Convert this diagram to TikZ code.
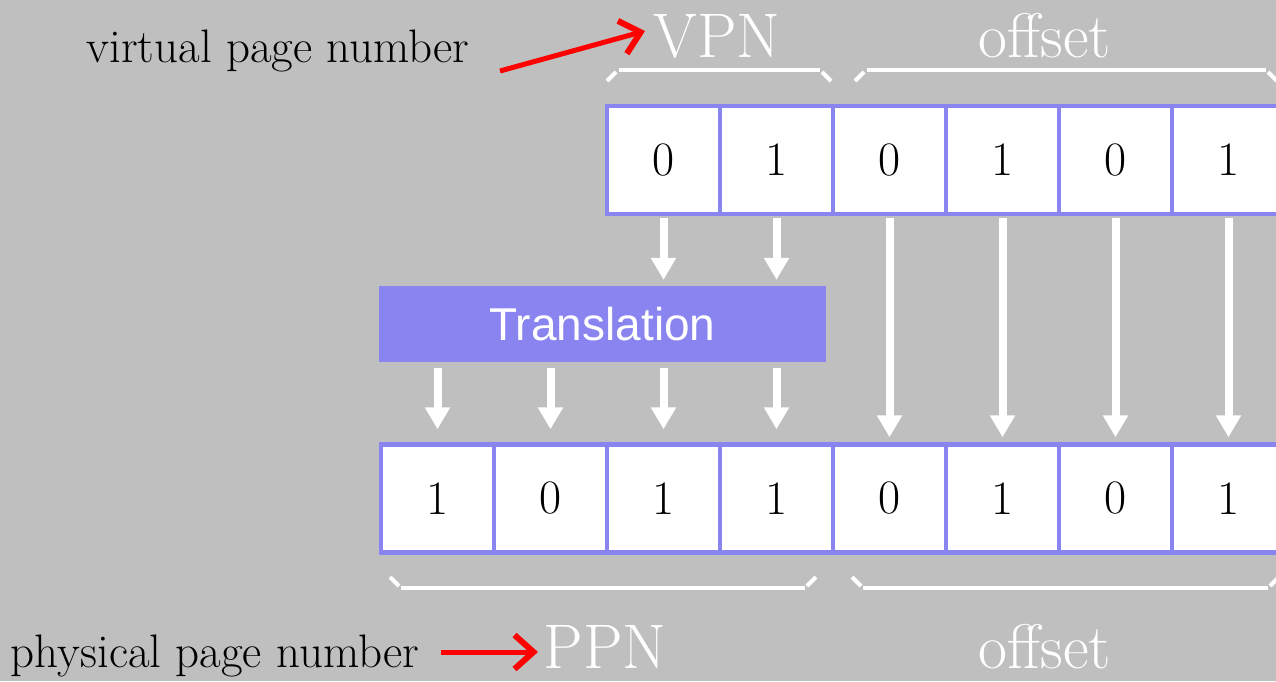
\documentclass[tikz,border=0pt]{standalone}
\usepackage{fontspec}
\newfontfamily\sansf{Liberation Sans}
\usetikzlibrary{arrows.meta}
\definecolor{bg}{RGB}{191,191,191}
\definecolor{vio}{RGB}{137,132,240}
\begin{document}
\begin{tikzpicture}[x=1pt,y=-1pt,
 cell/.style={draw=vio,line width=4.5pt,fill=white,minimum width=113pt,minimum height=108pt,inner sep=0pt,font=\fontsize{48}{50}\selectfont},
 warrow/.style={draw=white,line width=8pt,-{Triangle[width=24pt,length=22pt]}},
 brace/.style={draw=white,line width=4pt},
 wlab/.style={text=white,font=\fontsize{63}{70}\selectfont,inner sep=0pt,anchor=base},
 blab/.style={text=black,font=\fontsize{47}{52}\selectfont,inner sep=0pt,anchor=base},
 rarrow/.style={draw=red,line width=5pt,-{Straight Barb[length=19pt,width=34pt,line width=6pt]}}]
\useasboundingbox (0,0) rectangle (1276,681);
\fill[bg] (0,0) rectangle (1276,681);
\clip (0,0) rectangle (1276,681);
% top row
\foreach \i/\d in {2/0,3/1,4/0,5/1,6/0,7/1}
  \node[cell] (t\i) at ({381+113*(\i+0.5)},160) {\d};
% bottom row
\foreach \i/\d in {0/1,1/0,2/1,3/1,4/0,5/1,6/0,7/1}
  \node[cell] (b\i) at ({381+113*(\i+0.5)},498.5) {\d};
% translation
\node[fill=vio,minimum width=447pt,minimum height=76pt,inner sep=0pt,text=white,
      font=\sansf\fontsize{46}{50}\selectfont] (tr) at (602.5,324) {Translation};
% arrows
\foreach \i in {2,3}
  \draw[warrow] ([yshift=-2pt]t\i.south) -- ([yshift=6pt]t\i.south |- tr.north);
\foreach \i in {0,...,3}
  \draw[warrow] ([yshift=-6pt]b\i.north |- tr.south) -- ([yshift=13pt]b\i.north);
\foreach \i in {4,...,7}
  \draw[warrow] ([yshift=-2pt]t\i.south) -- ([yshift=5pt]b\i.north);
% braces
\draw[brace] (607,81) -- (616,72);
\draw[brace] (619,70) -- (820,70);
\draw[brace] (822,72) -- (831,81);
\draw[brace] (855,81) -- (864,72);
\draw[brace] (867,70) -- (1266,70);
\draw[brace] (1268,72) -- (1277,81);
\draw[brace] (390,577) -- (399,586);
\draw[brace] (401,588) -- (805,588);
\draw[brace] (807,586) -- (816,577);
\draw[brace] (852,577) -- (861,586);
\draw[brace] (863,588) -- (1268,588);
\draw[brace] (1270,586) -- (1279,577);
% labels
\node[wlab] (vpn) at (717,57) {VPN};
\node[wlab] (voff) at (1045,57) {offset};
\node[wlab] (ppn) at (605,668) {PPN};
\node[wlab] (poff) at (1045,668) {offset};
\node[blab] (vlab) at (278,62) {virtual page number};
\node[blab] (plab) at (215,667) {physical page number};
% red arrows
\coordinate (va) at (500,71);
\coordinate (vb) at (645,31);
\draw[rarrow] (va) -- (vb);
\coordinate (pa) at (441,652);
\coordinate (pb) at (538,652);
\draw[rarrow] (pa) -- (pb);
\end{tikzpicture}
\end{document}
